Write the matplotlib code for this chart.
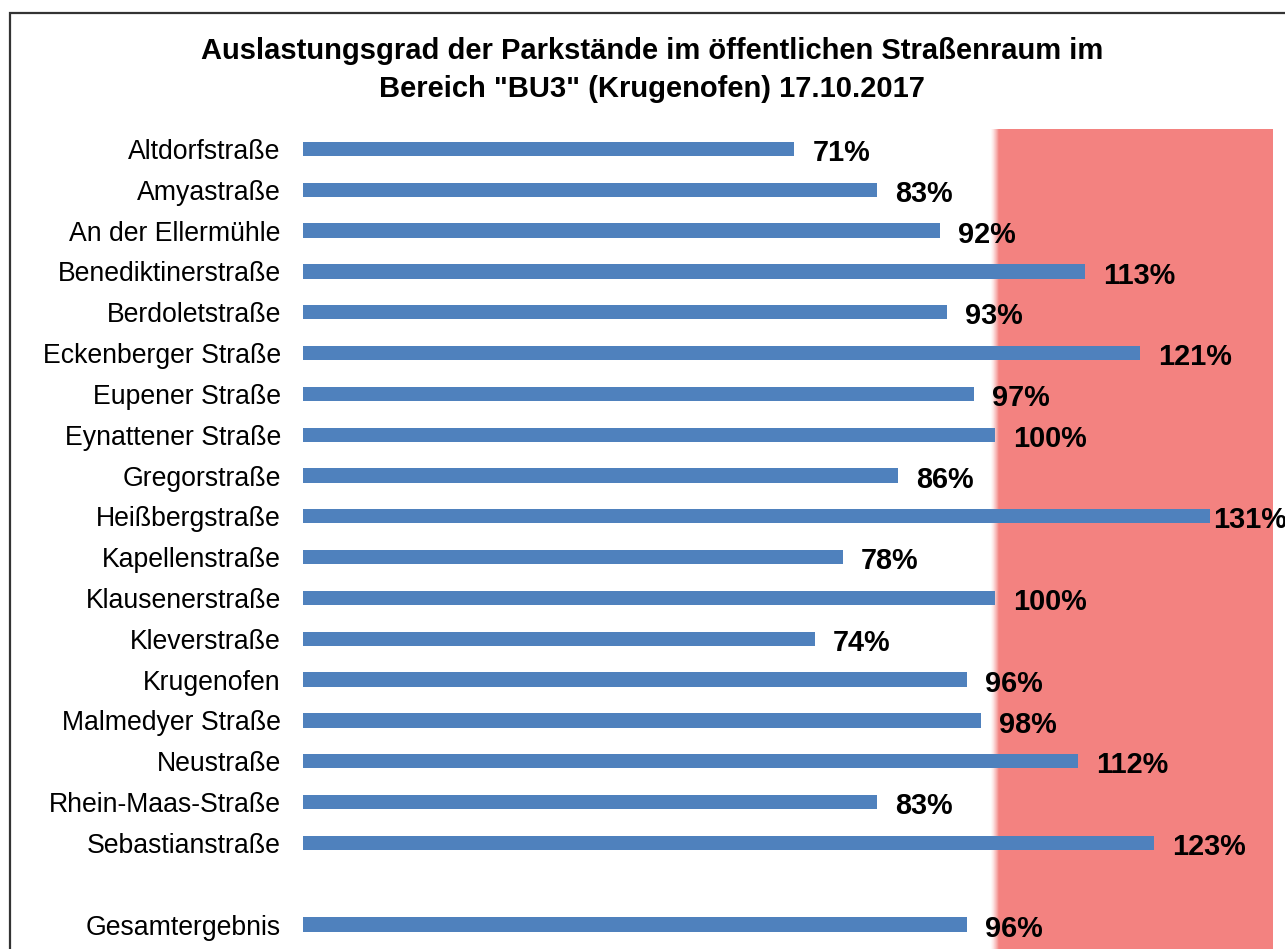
import matplotlib.pyplot as plt
import numpy as np
from matplotlib.patches import Rectangle

plt.rcParams['font.family'] = ['Liberation Sans', 'DejaVu Sans']

# data
streets = ["Altdorfstraße", "Amyastraße", "An der Ellermühle", "Benediktinerstraße",
           "Berdoletstraße", "Eckenberger Straße", "Eupener Straße", "Eynattener Straße",
           "Gregorstraße", "Heißbergstraße", "Kapellenstraße", "Klausenerstraße",
           "Kleverstraße", "Krugenofen", "Malmedyer Straße", "Neustraße",
           "Rhein-Maas-Straße", "Sebastianstraße"]
values = [71, 83, 92, 113, 93, 121, 97, 100, 86, 131, 78, 100, 74, 96, 98, 112, 83, 123]
total_label = "Gesamtergebnis"
total_value = 96

title = 'Auslastungsgrad der Parkstände im öffentlichen Straßenraum im\nBereich "BU3" (Krugenofen) 17.10.2017'

labels = streets + [total_label]
vals = values + [total_value]
ypos = list(range(len(streets))) + [len(streets) + 1]

fig = plt.figure(figsize=(12.85, 9.49), dpi=100)
ax = fig.add_axes([303 / 1285, 0.0, 1 - 303 / 1285, 1 - 129 / 949])

xmax = (1285 - 303) / 6.92
ylo, yhi = 19.6, -0.49

# red "over capacity" zone with a soft left edge
red = np.array([243, 130, 128]) / 255
ax.axvspan(100.6, 140.2, color=red, lw=0, zorder=0)
grad = np.zeros((2, 64, 4))
grad[..., :3] = red
grad[..., 3] = np.linspace(0, 1, 64) ** 1.5
ax.imshow(grad, extent=(99.3, 100.6, ylo, yhi), aspect='auto', zorder=0,
          interpolation='nearest')
ax.set_xlim(0, xmax)
ax.set_ylim(ylo, yhi)

ax.barh(ypos, vals, height=0.35, color='#4F81BD', zorder=2)

for y, v in zip(ypos, vals):
    x = min(v + 2.6, 131.5)
    ax.text(x, y + 0.1, f"{v}%", va='center', ha='left', fontsize=20.8,
            fontweight='bold', color='black', zorder=3, clip_on=False)

ax.set_yticks(ypos)
ax.set_yticklabels(labels, fontsize=19.2)
ax.tick_params(axis='y', length=0, pad=16)
ax.set_xticks([])
for s in ax.spines.values():
    s.set_visible(False)

fig.text(652 / 1285, 1 - 70 / 949, title, ha='center', va='center', fontsize=21,
         fontweight='bold', linespacing=1.42)

# outer frame of the original chart object
fig.patches.append(Rectangle((10 / 1285, -0.1), 1.2, 1 - 13 / 949 + 0.1,
                             transform=fig.transFigure, fill=False,
                             edgecolor='#333333', lw=1.6, zorder=10))

fig.savefig("out.png", dpi=100)
